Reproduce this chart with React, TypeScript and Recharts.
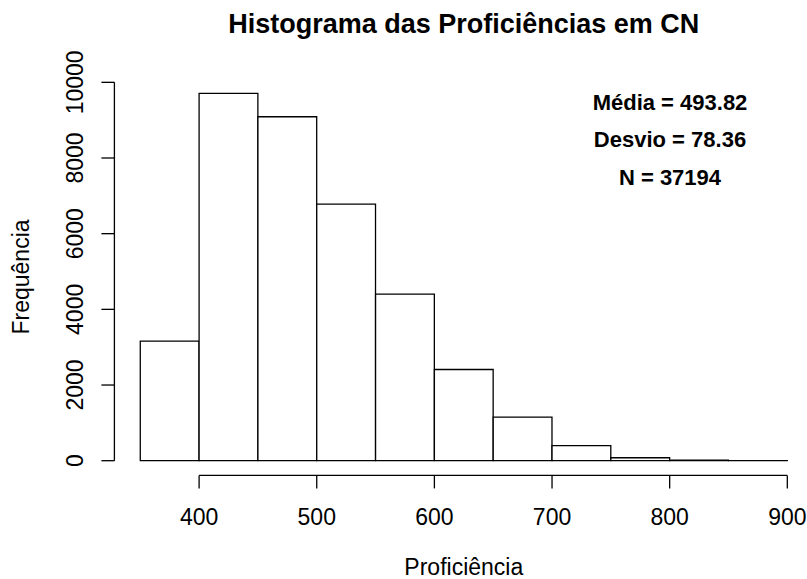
import { Bar, BarChart, ReferenceLine, XAxis, YAxis } from "recharts";

// histogram bins (breaks) and counts per bin
const breaks = [350, 400, 450, 500, 550, 600, 650, 700, 750, 800, 850, 900];
const counts = [3160, 9710, 9090, 6780, 4400, 2410, 1150, 400, 78, 13, 3];
const xTicks = [400, 500, 600, 700, 800, 900];
const yTicks = [0, 2000, 4000, 6000, 8000, 10000];

const statNames = ["Média", "Desvio", "N"];
const statValues = ["493.82", "78.36", "37194"];

const data = counts.map((count, i) => ({
  mid: (breaks[i] + breaks[i + 1]) / 2,
  count,
}));

// base-graphics style ranges: data range widened by 4% on each side
const xLo = breaks[0];
const xHi = breaks[breaks.length - 1];
const xPad = (xHi - xLo) * 0.04;
const yMax = Math.max(...counts);
const yPad = yMax * 0.04;

const FONT = "'Liberation Sans', Arial, Helvetica, sans-serif";
const INK = "#000";
const LW = 1.3;

const W = 807;
const H = 579;
const plotLeft = 114.4;
const plotTop = 78.6;
const plotRight = 813.2;
const plotBottom = 475.4;
const chartW = 814;
const plotW = plotRight - plotLeft;
// one bin width in pixels; kept a hair under the band so recharts doesn't shrink it to 90%
const barPx = (plotW * (breaks[1] - breaks[0])) / (xHi - xLo + 2 * xPad) - 0.05;
const midX = (plotLeft + plotRight) / 2;
const midY = (plotTop + plotBottom) / 2;

const YTick = (props: any) => {
  const { x, y, payload } = props;
  return (
    <text
      x={x}
      y={y}
      transform={`rotate(-90 ${x} ${y})`}
      textAnchor="middle"
      fontSize={23}
      fontFamily={FONT}
      fill={INK}
    >
      {payload.value}
    </text>
  );
};

export default function App() {
  return (
    <div
      style={{
        position: "absolute",
        left: 0,
        top: 0,
        width: W,
        height: H,
        overflow: "hidden",
        background: "#fff",
      }}
    >
      <BarChart
        width={chartW}
        height={H}
        data={data}
        margin={{ top: plotTop, right: chartW - plotRight, bottom: 0, left: 0 }}
        barCategoryGap={0}
        barGap={0}
      >
        <XAxis
          type="number"
          dataKey="mid"
          domain={[xLo - xPad, xHi + xPad]}
          allowDataOverflow
          ticks={xTicks}
          interval={0}
          height={H - plotBottom}
          axisLine={false}
          tickSize={13}
          tickMargin={20}
          tickLine={{ stroke: INK, strokeWidth: LW }}
          tick={{ fill: INK, fontSize: 23, fontFamily: FONT }}
        />
        <YAxis
          type="number"
          domain={[-yPad, yMax + yPad]}
          allowDataOverflow
          ticks={yTicks}
          interval={0}
          width={plotLeft}
          axisLine={false}
          tickSize={13}
          tickMargin={18}
          tickLine={{ stroke: INK, strokeWidth: LW }}
          tick={YTick}
        />
        <Bar
          dataKey="count"
          barSize={barPx}
          fill="#fff"
          stroke={INK}
          strokeWidth={LW}
          isAnimationActive={false}
        />
        {/* axis lines only span the tick range */}
        <ReferenceLine
          ifOverflow="visible"
          stroke={INK}
          strokeWidth={LW}
          segment={[
            { x: xLo - xPad, y: yTicks[0] },
            { x: xLo - xPad, y: yTicks[yTicks.length - 1] },
          ]}
        />
        <ReferenceLine
          ifOverflow="visible"
          stroke={INK}
          strokeWidth={LW}
          segment={[
            { x: xTicks[0], y: -yPad },
            { x: xTicks[xTicks.length - 1], y: -yPad },
          ]}
        />
      </BarChart>
      <svg
        width={W}
        height={H}
        style={{ position: "absolute", left: 0, top: 0, pointerEvents: "none" }}
        fontFamily={FONT}
        fill={INK}
      >
        <text x={midX} y={33} textAnchor="middle" fontSize={27} fontWeight="bold">
          Histograma das Proficiências em CN
        </text>
        <text x={midX} y={575} textAnchor="middle" fontSize={23}>
          Proficiência
        </text>
        <text
          x={29}
          y={midY}
          transform={`rotate(-90 29 ${midY})`}
          textAnchor="middle"
          fontSize={23}
        >
          Frequência
        </text>
        {statNames.map((name, i) => (
          <text
            key={name}
            x={670}
            y={109.5 + i * 37.5}
            textAnchor="middle"
            fontSize={22}
            fontWeight="bold"
          >
            {`${name} = ${statValues[i]}`}
          </text>
        ))}
      </svg>
    </div>
  );
}
